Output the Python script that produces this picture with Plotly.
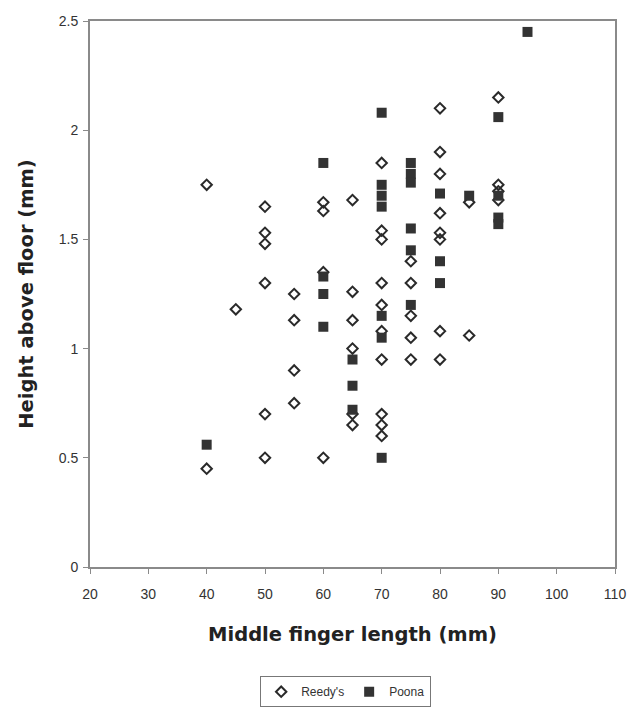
import plotly.graph_objects as go

# Reedy's measurements (open markers)
reedy_x = [40, 40,
           45,
           50, 50, 50, 50, 50, 50,
           55, 55, 55, 55,
           60, 60, 60, 60,
           65, 65, 65, 65, 65, 65,
           70, 70, 70, 70, 70, 70, 70, 70, 70, 70,
           75, 75, 75, 75, 75,
           80, 80, 80, 80, 80, 80, 80, 80,
           85, 85,
           90, 90, 90, 90]
reedy_y = [1.75, 0.45,
           1.18,
           1.65, 1.53, 1.48, 1.30, 0.70, 0.50,
           1.25, 1.13, 0.90, 0.75,
           1.67, 1.63, 1.35, 0.50,
           1.68, 1.26, 1.13, 1.00, 0.70, 0.65,
           1.85, 1.54, 1.50, 1.30, 1.20, 1.08, 0.95, 0.70, 0.65, 0.60,
           1.40, 1.30, 1.15, 1.05, 0.95,
           2.10, 1.90, 1.80, 1.62, 1.53, 1.50, 1.08, 0.95,
           1.67, 1.06,
           2.15, 1.75, 1.72, 1.68]

# Poona measurements (filled squares)
poona_x = [40,
           60, 60, 60, 60,
           65, 65, 65,
           70, 70, 70, 70, 70, 70, 70,
           75, 75, 75, 75, 75, 75,
           80, 80, 80,
           85,
           90, 90, 90, 90,
           95]
poona_y = [0.56,
           1.85, 1.33, 1.25, 1.10,
           0.95, 0.83, 0.72,
           2.08, 1.75, 1.70, 1.65, 1.15, 1.05, 0.50,
           1.85, 1.80, 1.76, 1.55, 1.45, 1.20,
           1.71, 1.40, 1.30,
           1.70,
           2.06, 1.70, 1.60, 1.57,
           2.45]

x_ticks = [20, 30, 40, 50, 60, 70, 80, 90, 100, 110]
y_ticks = [0, 0.5, 1, 1.5, 2, 2.5]
y_tick_text = ["0", "0.5", "1", "1.5", "2", "2.5"]

font_family = "Liberation Sans, Arial, sans-serif"
title_family = "DejaVu Sans, Verdana, sans-serif"
axis_color = "#8a8a8a"

fig = go.Figure()
fig.add_trace(go.Scatter(
    x=reedy_x, y=reedy_y, mode="markers", name="Reedy's",
    marker=dict(symbol="diamond-open", size=8, color="#2a2a2a",
                line=dict(width=2, color="#2a2a2a")),
))
fig.add_trace(go.Scatter(
    x=poona_x, y=poona_y, mode="markers", name="Poona",
    marker=dict(symbol="square", size=10, color="#333333",
                line=dict(width=0)),
))

fig.update_layout(
    width=641, height=713,
    margin=dict(l=90, r=26, t=21, b=146, autoexpand=False),
    paper_bgcolor="white", plot_bgcolor="white",
    font=dict(family=font_family, size=12, color="#333333"),
    showlegend=True,
    legend=dict(
        orientation="h", x=0.487, xanchor="center", y=-0.2, yanchor="top",
        bordercolor="#777777", borderwidth=1, bgcolor="white",
        font=dict(size=12, color="#333333"),
        itemwidth=30, tracegroupgap=0,
    ),
    xaxis=dict(
        range=[20, 110], tickvals=x_ticks, ticks="outside", ticklen=5,
        tickcolor=axis_color, showgrid=False, zeroline=False,
        showline=True, linecolor=axis_color, linewidth=2, mirror=True,
        tickfont=dict(size=14, color="#333333"), ticklabelstandoff=8,
        automargin=False,
        title=dict(text="<b>Middle finger length (mm)</b>",
                   font=dict(family=title_family, size=19.5, color="#222222"),
                   standoff=27),
    ),
    yaxis=dict(
        range=[0, 2.5], tickvals=y_ticks, ticktext=y_tick_text,
        ticks="outside", ticklen=5, tickcolor=axis_color,
        showgrid=False, zeroline=False,
        showline=True, linecolor=axis_color, linewidth=2, mirror=True,
        tickfont=dict(size=14, color="#333333"), ticklabelstandoff=2,
        automargin=False,
        title=dict(text="<b>Height above floor (mm)</b>",
                   font=dict(family=title_family, size=19.5, color="#222222"),
                   standoff=20),
    ),
)

fig.write_html("out.html")
